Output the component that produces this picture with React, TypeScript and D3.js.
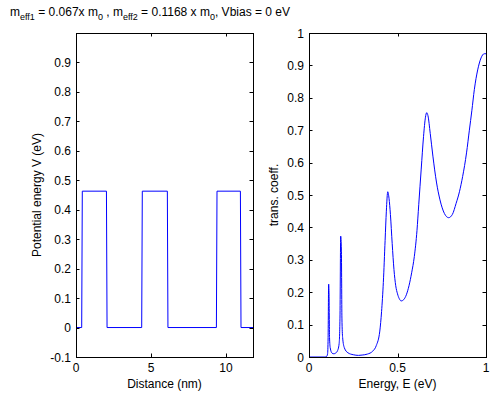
import { useRef, useEffect } from "react";
import * as d3 from "d3";

// potential profile (left panel)
const potX = [0, 0.38, 0.42, 2.03, 2.07, 4.38, 4.42, 6.09, 6.13, 9.36, 9.4, 10.96, 11.0, 11.8];
const potV = [0, 0, 0.463, 0.463, 0, 0, 0.463, 0.463, 0, 0, 0.463, 0.463, 0, 0];

// transmission coefficient vs energy (right panel)
const energy = [
  0, 0.09, 0.1, 0.105, 0.108, 0.111, 0.113, 0.116, 0.12, 0.13, 0.14, 0.15, 0.16, 0.17,
  0.175, 0.179, 0.183, 0.186, 0.19, 0.2, 0.22, 0.25, 0.28, 0.3, 0.33, 0.36, 0.38, 0.4,
  0.41, 0.42, 0.43, 0.437, 0.445, 0.452, 0.46, 0.47, 0.48, 0.49, 0.5, 0.51, 0.521, 0.535,
  0.55, 0.565, 0.58, 0.595, 0.61, 0.62, 0.634, 0.647, 0.658, 0.665, 0.672, 0.685, 0.7,
  0.72, 0.74, 0.765, 0.789, 0.81, 0.831, 0.85, 0.868, 0.89, 0.906, 0.92, 0.934, 0.953,
  0.972, 0.99, 1.0,
];
const trans = [
  0, 0, 0.002, 0.01, 0.06, 0.225, 0.2, 0.06, 0.028, 0.012, 0.01, 0.012, 0.018, 0.04,
  0.12, 0.373, 0.33, 0.12, 0.06, 0.028, 0.013, 0.007, 0.005, 0.006, 0.009, 0.018, 0.035, 0.08,
  0.14, 0.23, 0.36, 0.45, 0.51, 0.49, 0.44, 0.35, 0.27, 0.22, 0.195, 0.18, 0.173, 0.177,
  0.192, 0.22, 0.26, 0.31, 0.39, 0.47, 0.58, 0.68, 0.74, 0.754, 0.745, 0.69, 0.62,
  0.54, 0.485, 0.443, 0.43, 0.44, 0.474, 0.51, 0.557, 0.63, 0.7, 0.76, 0.825, 0.886,
  0.923, 0.936, 0.936,
];

const leftYTicks = [-0.1, 0, 0.1, 0.2, 0.3, 0.4, 0.5, 0.6, 0.7, 0.8, 0.9];
const leftXTicks = [0, 5, 10];
const rightYTicks = [0, 0.1, 0.2, 0.3, 0.4, 0.5, 0.6, 0.7, 0.8, 0.9, 1];
const rightXTicks = [0, 0.5, 1];

const FONT = "Arial, 'Liberation Sans', Helvetica, sans-serif";

export default function App() {
  const svgRef = useRef<SVGSVGElement>(null);

  useEffect(() => {
    const svg = d3.select(svgRef.current);
    svg.selectAll("*").remove();
    const width = 491;
    const height = 396;
    svg.attr("width", width).attr("height", height);
    svg.append("rect").attr("width", width).attr("height", height).attr("fill", "white");

    const top = 33, bottom = 357;
    const tickLen = 3.5;

    function panel(opts: {
      x0: number; x1: number; xDom: [number, number]; yDom: [number, number];
      xTicks: number[]; yTicks: number[]; xs: number[]; ys: number[];
      xLabel: string; yLabel: string; yLabelX: number; curve: d3.CurveFactory;
    }) {
      const x = d3.scaleLinear().domain(opts.xDom).range([opts.x0, opts.x1]);
      const y = d3.scaleLinear().domain(opts.yDom).range([bottom, top]);
      const g = svg.append("g");

      // data line
      const pts = opts.xs.map((v, i) => [v, opts.ys[i]] as [number, number]);
      g.append("path")
        .attr("d", d3.line().curve(opts.curve).x(d => x(d[0])).y(d => y(d[1]))(pts))
        .attr("fill", "none")
        .attr("stroke", "#0000ff")
        .attr("stroke-width", 1);

      // box
      g.append("rect")
        .attr("x", opts.x0 + 0.5).attr("y", top + 0.5)
        .attr("width", opts.x1 - opts.x0).attr("height", bottom - top)
        .attr("fill", "none").attr("stroke", "black").attr("stroke-width", 1);

      // ticks, both sides like matlab's box
      opts.xTicks.forEach(t => {
        const px = Math.round(x(t)) + 0.5;
        g.append("line").attr("x1", px).attr("x2", px).attr("y1", bottom).attr("y2", bottom - tickLen).attr("stroke", "black");
        g.append("line").attr("x1", px).attr("x2", px).attr("y1", top).attr("y2", top + tickLen).attr("stroke", "black");
        g.append("text").attr("x", x(t)).attr("y", bottom + 15)
          .attr("text-anchor", "middle").attr("font-size", 12).attr("font-family", FONT)
          .text(String(t));
      });
      opts.yTicks.forEach(t => {
        const py = Math.round(y(t)) + 0.5;
        g.append("line").attr("x1", opts.x0).attr("x2", opts.x0 + tickLen).attr("y1", py).attr("y2", py).attr("stroke", "black");
        g.append("line").attr("x1", opts.x1).attr("x2", opts.x1 - tickLen).attr("y1", py).attr("y2", py).attr("stroke", "black");
        g.append("text").attr("x", opts.x0 - 5).attr("y", y(t) + 4.5)
          .attr("text-anchor", "end").attr("font-size", 12).attr("font-family", FONT)
          .text(String(+t.toFixed(1)));
      });

      g.append("text")
        .attr("x", (opts.x0 + opts.x1) / 2).attr("y", 388)
        .attr("text-anchor", "middle").attr("font-size", 12).attr("font-family", FONT)
        .text(opts.xLabel);
      g.append("text")
        .attr("transform", `translate(${opts.yLabelX},${(top + bottom) / 2}) rotate(-90)`)
        .attr("text-anchor", "middle").attr("font-size", 12).attr("font-family", FONT)
        .text(opts.yLabel);
    }

    panel({
      x0: 76, x1: 253, xDom: [0, 11.8], yDom: [-0.1, 1],
      xTicks: leftXTicks, yTicks: leftYTicks, xs: potX, ys: potV,
      xLabel: "Distance (nm)", yLabel: "Potential energy V (eV)", yLabelX: 41,
      curve: d3.curveLinear,
    });
    panel({
      x0: 309, x1: 486, xDom: [0, 1], yDom: [0, 1],
      xTicks: rightXTicks, yTicks: rightYTicks, xs: energy, ys: trans,
      xLabel: "Energy, E (eV)", yLabel: "trans. coeff.", yLabelX: 278,
      curve: d3.curveMonotoneX,
    });

    // title with subscripts
    const title = svg.append("text")
      .attr("x", 10).attr("y", 16)
      .attr("font-size", 12).attr("font-family", FONT);
    const parts: [string, boolean][] = [
      ["m", false], ["eff1", true], [" = 0.067x m", false], ["0", true],
      [" , m", false], ["eff2", true], [" = 0.1168 x m", false], ["0", true],
      [", Vbias = 0 eV", false],
    ];
    let sub = false;
    parts.forEach(([s, isSub]) => {
      const dy = isSub === sub ? 0 : isSub ? 4 : -4;
      sub = isSub;
      title.append("tspan").attr("dy", dy).attr("font-size", isSub ? 9 : 12).text(s);
    });
  }, []);

  return (
    <svg ref={svgRef} style={{ position: "absolute", left: 0, top: 0, display: "block" }} />
  );
}
